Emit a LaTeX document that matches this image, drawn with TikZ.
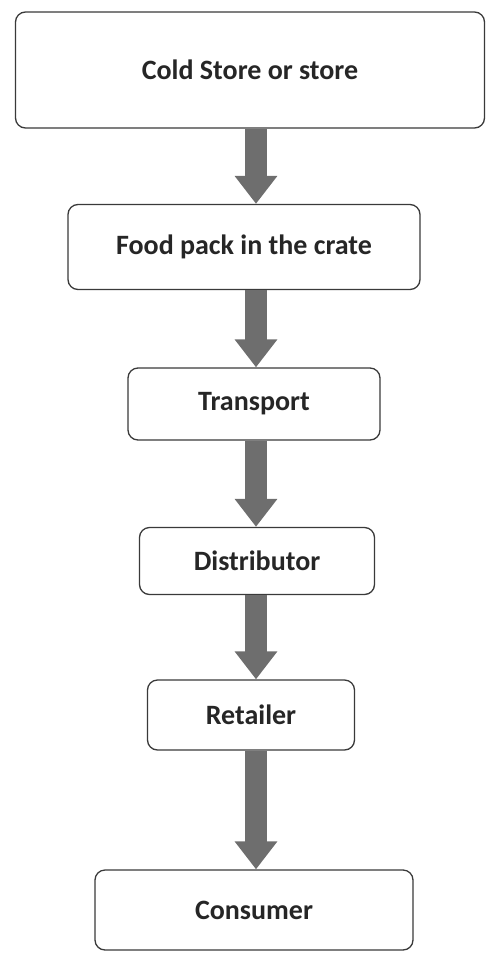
\documentclass[tikz,border=0pt]{standalone}
\usepackage{fontspec}
\setmainfont{Carlito}
\usetikzlibrary{arrows.meta}
\definecolor{arrgray}{HTML}{6E6E6E}
\definecolor{edge}{HTML}{3A3A3A}
\tikzset{
  boxnode/.style={draw=edge, line width=1.3pt, rounded corners=10pt, fill=white,
    font=\bfseries\fontsize{28}{32}\selectfont, text=black!85, inner sep=0pt},
  flowarrow/.style={draw=arrgray, line width=22pt,
    -{Triangle[width=41pt,length=28pt,fill=arrgray]}, shorten >=0pt}
}
\begin{document}
\begin{tikzpicture}[x=1pt,y=-1pt]
\useasboundingbox (0,0) rectangle (486,959);
\node[boxnode, minimum width=469pt, minimum height=116pt] (cold) at (250,70) {Cold Store or store};
\node[boxnode, minimum width=352pt, minimum height=85pt] (food) at (244,247) {Food pack in the crate};
\node[boxnode, minimum width=252pt, minimum height=72pt] (trans) at (254,404) {Transport};
\node[boxnode, minimum width=235pt, minimum height=67pt] (dist) at (257,561) {Distributor};
\node[boxnode, minimum width=207pt, minimum height=70pt] (ret) at (251,715) {Retailer};
\node[boxnode, minimum width=318pt, minimum height=80pt] (cons) at (254,910) {Consumer};
\coordinate (ax) at (256,0);
\draw[flowarrow] (cold.south -| ax) -- (food.north -| ax);
\draw[flowarrow] (food.south -| ax) -- (trans.north -| ax);
\draw[flowarrow] (trans.south -| ax) -- (dist.north -| ax);
\draw[flowarrow] (dist.south -| ax) -- (ret.north -| ax);
\draw[flowarrow] (ret.south -| ax) -- (cons.north -| ax);
\end{tikzpicture}
\end{document}
